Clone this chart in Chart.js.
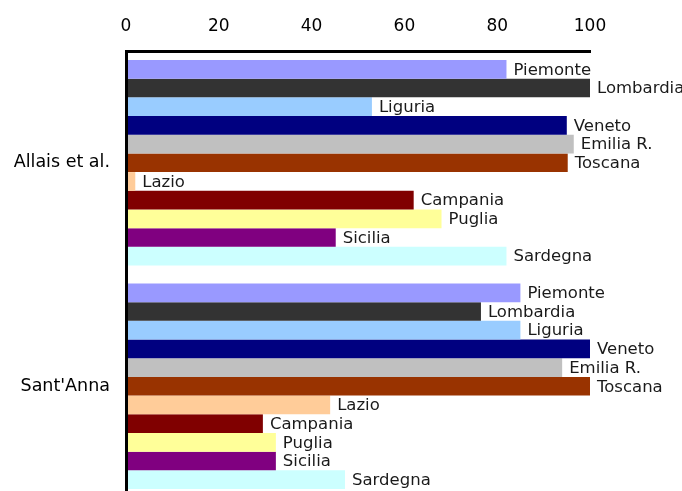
<!DOCTYPE html>
<html>
<head>
<meta charset="utf-8">
<script src="https://cdn.jsdelivr.net/npm/chart.js@4"></script>
<style>
  html, body { margin: 0; padding: 0; background: #fff; overflow: hidden; }
  canvas { display: block; }
</style>
</head>
<body>
<canvas id="chart" width="682" height="498"></canvas>
<script>
const sources = ["Allais et al.", "Sant'Anna"];
const regions = ["Piemonte", "Lombardia", "Liguria", "Veneto", "Emilia R.", "Toscana",
  "Lazio", "Campania", "Puglia", "Sicilia", "Sardegna"];
const colors = ["#9999FF", "#333333", "#99CCFF", "#000080", "#C0C0C0", "#993300",
  "#FFCC99", "#800000", "#FFFF99", "#800080", "#CCFFFF"];
// values per region: [Allais et al., Sant'Anna]
const allais = [82, 100, 53, 95, 96.5, 95.2, 2, 62, 68, 45.2, 82];
const santAnna = [85, 76.5, 85, 100, 94, 100, 44, 29.5, 32.3, 32.3, 47.2];
const xTicks = [0, 20, 40, 60, 80, 100];

const fontFamily = "'DejaVu Sans', Verdana, sans-serif";

const barLabels = {
  id: "barLabels",
  afterDatasetsDraw(chart) {
    const ctx = chart.ctx;
    ctx.save();
    ctx.font = "16.5px " + fontFamily;
    ctx.fillStyle = "#1a1a1a";
    ctx.textAlign = "left";
    ctx.textBaseline = "middle";
    chart.data.datasets.forEach((ds, i) => {
      chart.getDatasetMeta(i).data.forEach((bar) => {
        ctx.fillText(ds.label, bar.x + 7, bar.y + 1);
      });
    });
    ctx.restore();
  },
};

const ctx = document.getElementById("chart").getContext("2d");
new Chart(ctx, {
  type: "bar",
  data: {
    labels: sources,
    datasets: regions.map((r, i) => ({
      label: r,
      data: [allais[i], santAnna[i]],
      backgroundColor: colors[i],
      borderWidth: 0,
      barPercentage: 1,
      categoryPercentage: 0.92,
    })),
  },
  options: {
    indexAxis: "y",
    responsive: false,
    animation: false,
    layout: { autoPadding: false, padding: { left: 0, right: 92, top: 0, bottom: 0 } },
    plugins: { legend: { display: false }, tooltip: { enabled: false } },
    scales: {
      x: {
        position: "top",
        min: 0,
        max: 100,
        afterBuildTicks: (scale) => { scale.ticks = xTicks.map((v) => ({ value: v })); },
        afterFit: (scale) => {
          scale.height = 51;
          scale.paddingLeft = 0;
          scale.paddingRight = 0;
        },
        grid: { display: false, drawTicks: false },
        border: { display: true, color: "#000", width: 3, z: 1 },
        ticks: { color: "#000", font: { size: 17, family: fontFamily }, padding: 14, maxRotation: 0 },
      },
      y: {
        afterFit: (scale) => {
          scale.width = 126;
          scale.paddingTop = 0;
          scale.paddingBottom = 0;
        },
        grid: { display: false, drawTicks: false },
        border: { display: true, color: "#000", width: 3, z: 1 },
        ticks: { color: "#000", font: { size: 17.5, family: fontFamily }, padding: 16 },
      },
    },
  },
  plugins: [barLabels],
});
</script>
</body>
</html>
